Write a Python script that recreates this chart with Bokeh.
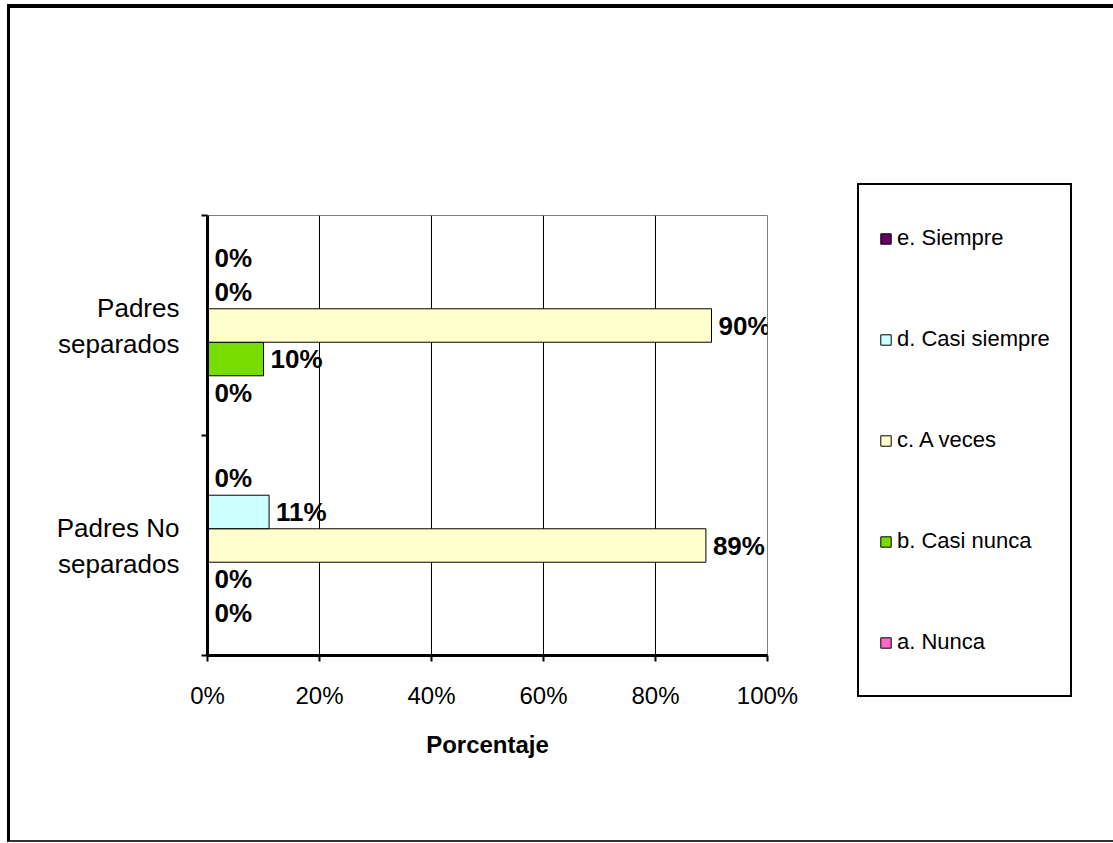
from bokeh.plotting import figure
from bokeh.models import (Range1d, FixedTicker, ColumnDataSource, LabelSet,
                          Legend, LegendItem)
from bokeh.core.properties import value
from bokeh.embed import file_html
from bokeh.resources import INLINE

# ---------------- data ----------------
categories = ["Padres No\nseparados", "Padres\nseparados"]
series_names = ["a. Nunca", "b. Casi nunca", "c. A veces", "d. Casi siempre", "e. Siempre"]
a_nunca = [0, 0]
b_casi_nunca = [0, 10]
c_a_veces = [89, 90]
d_casi_siempre = [11, 0]
e_siempre = [0, 0]
x_ticks = [0, 20, 40, 60, 80, 100]
x_tick_labels = ["0%", "20%", "40%", "60%", "80%", "100%"]

series_values = [a_nunca, b_casi_nunca, c_a_veces, d_casi_siempre, e_siempre]
colors = ["#FF66CC", "#77DD00", "#FFFFCC", "#CCFFFF", "#660066"]
offsets = [-0.305, -0.1525, 0.0, 0.1525, 0.305]
bar_h = 0.152

FONT = "Liberation Sans"

p = figure(frame_width=560, frame_height=440, output_backend="svg",
           toolbar_location=None,
           x_range=Range1d(0, 100), y_range=Range1d(-0.5, 1.5),
           min_border_left=197, min_border_top=207, min_border_right=336,
           min_border_bottom=185)
p.styles = {"border-top": "4px solid black", "border-left": "3px solid black",
            "border-bottom": "2px solid #333333",
            "margin-left": "7px", "margin-top": "4px"}
p.outline_line_color = "#808080"
p.outline_line_width = 1
p.background_fill_color = "white"
p.border_fill_color = "white"

renderers = []
for name, vals, col, off in zip(series_names, series_values, colors, offsets):
    ys = [i + off for i in range(len(categories))]
    src = ColumnDataSource(dict(y=ys, right=vals,
                                txt=["%d%%" % v for v in vals]))
    r = p.hbar(y="y", left=0, right="right", height=bar_h, source=src,
               fill_color=col, line_color="black", line_width=1)
    renderers.append((name, r))
    labels = LabelSet(x="right", y="y", text="txt", source=src,
                      x_offset=7, y_offset=0, text_baseline="middle",
                      text_align="left", text_font=value(FONT),
                      text_font_size=value("26px"), text_font_style=value("bold"),
                      text_color="black")
    p.add_layout(labels)

# grid
p.ygrid.visible = False
p.xgrid.ticker = FixedTicker(ticks=[20, 40, 60, 80])
p.xgrid.grid_line_color = "black"
p.xgrid.grid_line_width = 1

# x axis
xa = p.xaxis[0]
xa.ticker = FixedTicker(ticks=x_ticks)
xa.major_label_overrides = {t: l for t, l in zip(x_ticks, x_tick_labels)}
xa.axis_line_width = 3
xa.major_tick_line_width = 2
xa.major_tick_out = 6
xa.major_tick_in = 0
xa.minor_tick_line_color = None
xa.major_label_standoff = 20
xa.major_label_text_font = FONT
xa.major_label_text_font_size = "24px"
xa.major_label_text_color = "black"
xa.axis_label = "Porcentaje"
xa.axis_label_text_font = FONT
xa.axis_label_text_font_size = "24px"
xa.axis_label_text_font_style = "bold"
xa.axis_label_standoff = 19
xa.axis_label_text_color = "black"

# y axis
ya = p.yaxis[0]
ya.ticker = FixedTicker(ticks=[0, 1], minor_ticks=[-0.5, 0.5, 1.5])
ya.major_label_overrides = {i: c for i, c in enumerate(categories)}
ya.axis_line_width = 3
ya.major_tick_line_color = None
ya.major_tick_out = 0
ya.major_tick_in = 0
ya.minor_tick_out = 6
ya.minor_tick_in = 0
ya.minor_tick_line_width = 2
ya.major_label_standoff = 22
ya.major_label_text_font = FONT
ya.major_label_text_font_size = "26px"
ya.major_label_text_color = "black"
ya.major_label_text_align = "center"

# legend (top to bottom: e .. a)
items = [LegendItem(label=n, renderers=[r]) for n, r in reversed(renderers)]
legend = Legend(items=items, location=(90, -42), orientation="vertical",
                label_text_font=FONT, label_text_font_size="22px",
                label_text_color="black",
                glyph_width=13, glyph_height=13, label_standoff=5,
                label_height=66, spacing=35, padding=20,
                border_line_color="black", border_line_width=2,
                border_line_alpha=1.0,
                background_fill_color="white", background_fill_alpha=1.0)
p.add_layout(legend, "right")

open("out.html", "w").write(file_html(p, INLINE))
